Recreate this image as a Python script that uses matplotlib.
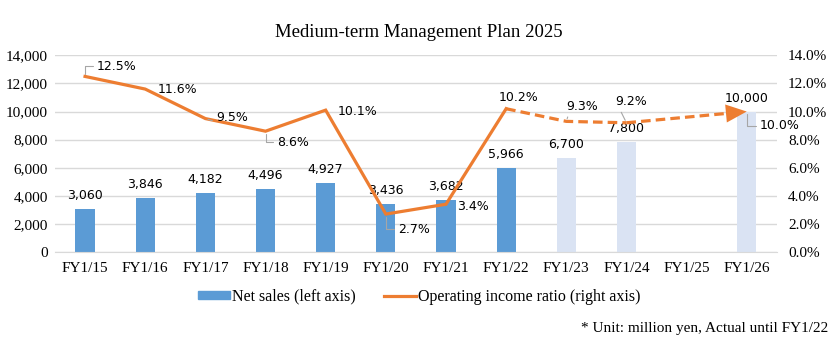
import numpy as np
import matplotlib.pyplot as plt
from matplotlib.ticker import FuncFormatter, MultipleLocator
from matplotlib.patches import Patch
from matplotlib.lines import Line2D

years = ["FY1/15", "FY1/16", "FY1/17", "FY1/18", "FY1/19", "FY1/20",
         "FY1/21", "FY1/22", "FY1/23", "FY1/24", "FY1/25", "FY1/26"]
net_sales = [3060, 3846, 4182, 4496, 4927, 3436, 3682, 5966, 6700, 7800, np.nan, 10000]
op_ratio = [12.5, 11.6, 9.5, 8.6, 10.1, 2.7, 3.4, 10.2, 9.3, 9.2, np.nan, 10.0]
n_actual = 8  # actual results through FY1/22, plan afterwards

# ratio label offsets in pixels (left edge of text, relative to the point)
ratio_offsets = [(12, 10), (12, 0), (11, 1), (12, -11), (12, -1), (12, -15),
                 (11, -2), (-7, 11), (0, 15), (-11, 21), (0, 0), (13, -14)]
# leader style per label: None, "elbow" or "straight"
leaders = ["elbow", None, "straight", "elbow", None, "elbow",
           None, None, "straight", "straight", None, "elbow"]

blue = "#5B9BD5"
light_blue = "#DAE3F3"
orange = "#ED7D31"
grey = "#A6A6A6"
serif = "Liberation Serif"
px2pt = 0.72

fig = plt.figure(figsize=(8.38, 3.46), dpi=100)
ax = fig.add_axes([0.0656, 0.2717, 0.8614, 0.5683])
ax2 = ax.twinx()

x = np.arange(len(years))
colors = [blue if i < n_actual else light_blue for i in range(len(years))]
ax.bar(x, net_sales, width=0.32, color=colors, zorder=2)

ax.set_xlim(-0.5, len(years) - 0.5)
ax.set_ylim(0, 14000)
ax.yaxis.set_major_locator(MultipleLocator(2000))
ax.yaxis.set_major_formatter(FuncFormatter(lambda v, p: f"{v:,.0f}"))
ax.grid(axis="y", color="#D9D9D9", linewidth=1, zorder=0)
ax.set_axisbelow(True)
ax.set_xticks(x)
ax.set_xticklabels(years, fontfamily=serif, fontsize=11)
ax.tick_params(axis="x", length=0, pad=7)
ax.tick_params(axis="y", length=0, pad=5)
for lab in ax.get_yticklabels():
    lab.set_fontfamily(serif)
    lab.set_fontsize(11)

for i, v in enumerate(net_sales):
    if not np.isnan(v):
        ax.annotate(f"{v:,.0f}", (x[i], v), xytext=(0, 5), textcoords="offset points",
                    ha="center", va="bottom", fontsize=9, fontfamily="DejaVu Sans", zorder=5)

ax2.set_ylim(0, 14)
ax2.yaxis.set_major_locator(MultipleLocator(2))
ax2.yaxis.set_major_formatter(FuncFormatter(lambda v, p: f"{v:.1f}%"))
ax2.tick_params(length=0, pad=8)
for lab in ax2.get_yticklabels():
    lab.set_fontfamily(serif)
    lab.set_fontsize(11)

for a in (ax, ax2):
    for s in a.spines.values():
        s.set_visible(False)
ax.spines["bottom"].set_visible(True)
ax.spines["bottom"].set_color("#D9D9D9")

# actual line (solid)
ax2.plot(x[:n_actual], op_ratio[:n_actual], color=orange, linewidth=2.3,
         solid_joinstyle="miter", zorder=3)
# plan line (dashed), FY1/25 has no value so it is skipped
plan_idx = [i for i in range(n_actual - 1, len(years)) if not np.isnan(op_ratio[i])]
px = x[plan_idx]
py = [op_ratio[i] for i in plan_idx]
ax2.plot(px[:-1], py[:-1], color=orange, linewidth=2.3, linestyle=(0, (3, 1.6)), zorder=3)
# last segment ends in an arrow head
tail = (px[-1] - 0.3, py[-1] - 0.3 * (py[-1] - py[-2]) / (px[-1] - px[-2]))
ax2.plot([px[-2], tail[0]], [py[-2], tail[1]], color=orange, linewidth=2.3,
         linestyle=(0, (3, 1.6)), zorder=3)
ax2.annotate("", xy=(px[-1], py[-1]), xytext=tail,
             arrowprops=dict(arrowstyle="-|>,head_length=1.5,head_width=0.65",
                             color=orange, lw=0, shrinkA=0, shrinkB=0),
             zorder=4)

for i, v in enumerate(op_ratio):
    if np.isnan(v):
        continue
    dx, dy = ratio_offsets[i]
    props = None
    if leaders[i] == "elbow":
        props = dict(arrowstyle="-", color=grey, lw=0.8, relpos=(0, 0.5),
                     connectionstyle="angle,angleA=0,angleB=90,rad=0",
                     shrinkA=1, shrinkB=2)
    elif leaders[i] == "straight":
        props = dict(arrowstyle="-", color=grey, lw=0.8, relpos=(0.1, 0.1),
                     shrinkA=1, shrinkB=2)
    ax2.annotate(f"{v:.1f}%", (x[i], v), xytext=(dx * px2pt, dy * px2pt),
                 textcoords="offset points", ha="left", va="center", fontsize=9,
                 fontfamily="DejaVu Sans", arrowprops=props, zorder=5)

fig.text(0.5, 0.9075, "Medium-term Management Plan 2025", ha="center", va="center",
         fontfamily=serif, fontsize=13.5)

handles = [Patch(color=blue), Line2D([0], [0], color=orange, linewidth=2.3)]
fig.legend(handles, ["Net sales (left axis)", "Operating income ratio (right axis)"],
           loc="center", bbox_to_anchor=(0.5, 0.142), ncol=2, frameon=False,
           prop={"family": serif, "size": 11.5}, handlelength=2.0, handleheight=0.45,
           handletextpad=0.1, columnspacing=1.8)

fig.text(0.988, 0.052, "* Unit: million yen, Actual until FY1/22", ha="right", va="center",
         fontfamily=serif, fontsize=11)

fig.savefig("out.png", dpi=100)
